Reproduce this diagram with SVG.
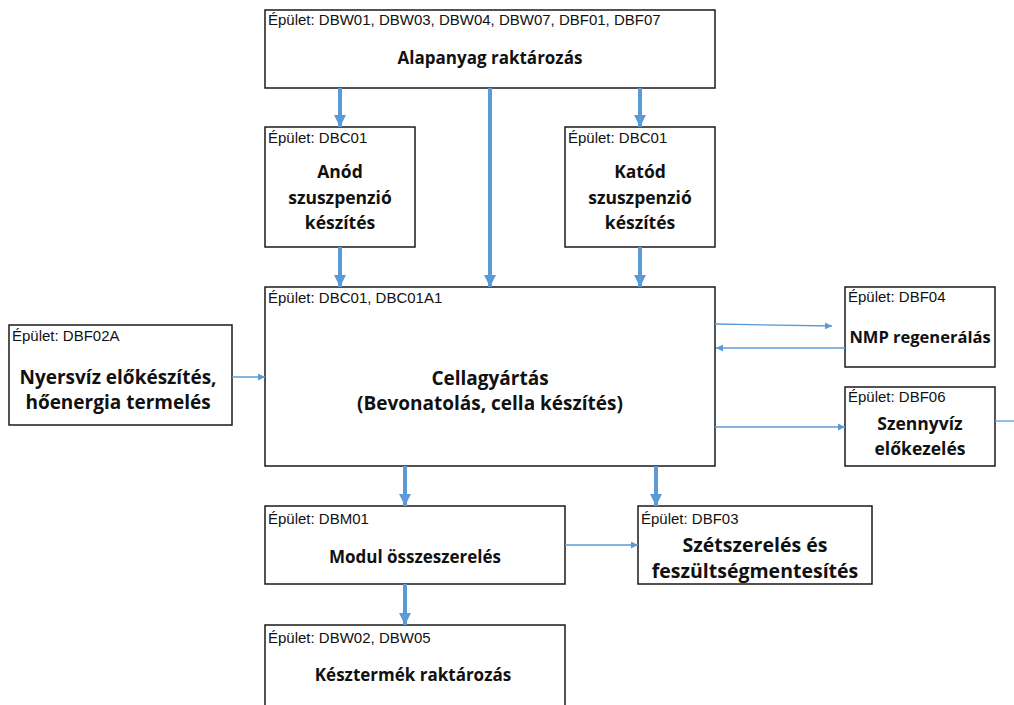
<svg xmlns="http://www.w3.org/2000/svg" width="1014" height="705" viewBox="0 0 1014 705">
<defs>
<marker id="hd" viewBox="0 0 10 10" refX="10" refY="5" markerWidth="3" markerHeight="3" orient="auto" markerUnits="strokeWidth"><path d="M0,0 L10,5 L0,10 z" fill="#5B9BD5"/></marker>
<marker id="hs" viewBox="0 0 10 10" refX="10" refY="5" markerWidth="8" markerHeight="7" orient="auto" markerUnits="userSpaceOnUse"><path d="M0,0 L10,5 L0,10 z" fill="#5B9BD5"/></marker>
</defs>
<style>
.box{fill:#fff;stroke:#1a1a1a;stroke-width:1.5}
.lbl{font-family:"Liberation Sans",Arial,sans-serif;font-size:15px;fill:#111}
.ttl{font-family:"Open Sans","Liberation Sans",sans-serif;font-size:17px;font-weight:bold;fill:#111;text-anchor:middle}
.thick{stroke:#5B9BD5;stroke-width:4;fill:none;marker-end:url(#hd)}
.thin{stroke:#5B9BD5;stroke-width:1.3;fill:none;marker-end:url(#hs)}
</style>
<rect width="1014" height="705" fill="#fff"/>
<g id="n-alapanyag"><rect class="box" x="265" y="10" width="450" height="78"/><text class="lbl" x="268" y="25">Épület: DBW01, DBW03, DBW04, DBW07, DBF01, DBF07</text><text class="ttl" x="490" y="64">Alapanyag raktározás</text></g>
<g id="n-anod"><rect class="box" x="265" y="127" width="150" height="120"/><text class="lbl" x="268" y="143">Épület: DBC01</text><g class="ttl" style="font-size:17.5px"><text class="ttl" x="340" y="178" style="font-size:17.5px">Anód</text><text class="ttl" x="340" y="204" style="font-size:17.5px">szuszpenzió</text><text class="ttl" x="340" y="229" style="font-size:17.5px">készítés</text></g></g>
<g id="n-katod"><rect class="box" x="565" y="127" width="150" height="120"/><text class="lbl" x="568" y="143">Épület: DBC01</text><text class="ttl" x="640" y="178" style="font-size:17.5px">Katód</text><text class="ttl" x="640" y="204" style="font-size:17.5px">szuszpenzió</text><text class="ttl" x="640" y="229" style="font-size:17.5px">készítés</text></g>
<g id="n-cella"><rect class="box" x="265" y="287" width="450" height="179"/><text class="lbl" x="268" y="303">Épület: DBC01, DBC01A1</text><text class="ttl" x="490" y="385" style="font-size:19px">Cellagyártás</text><text class="ttl" x="490" y="410" style="font-size:19px">(Bevonatolás, cella készítés)</text></g>
<g id="n-nyersviz"><rect class="box" x="9" y="325" width="223" height="100"/><text class="lbl" x="12" y="341">Épület: DBF02A</text><text class="ttl" x="118" y="384" style="font-size:19px">Nyersvíz előkészítés,</text><text class="ttl" x="118" y="409" style="font-size:19px">hőenergia termelés</text></g>
<g id="n-nmp"><rect class="box" x="845" y="287" width="150" height="80"/><text class="lbl" x="848" y="302">Épület: DBF04</text><text class="ttl" x="920" y="343" style="font-size:16.5px">NMP regenerálás</text></g>
<g id="n-szennyviz"><rect class="box" x="845" y="387" width="150" height="79"/><text class="lbl" x="848" y="402">Épület: DBF06</text><text class="ttl" x="920" y="430" style="font-size:17.5px">Szennyvíz</text><text class="ttl" x="920" y="455" style="font-size:17.5px">előkezelés</text></g>
<g id="n-modul"><rect class="box" x="265" y="506" width="300" height="78"/><text class="lbl" x="268" y="524">Épület: DBM01</text><text class="ttl" x="415" y="563">Modul összeszerelés</text></g>
<g id="n-szetszereles"><rect class="box" x="638" y="506" width="234" height="78"/><text class="lbl" x="641" y="524">Épület: DBF03</text><text class="ttl" x="755" y="552" style="font-size:19.5px">Szétszerelés és</text><text class="ttl" x="755" y="578" style="font-size:19.5px">feszültségmentesítés</text></g>
<g id="n-keszermek"><rect class="box" x="265" y="625" width="300" height="82"/><text class="lbl" x="268" y="643">Épület: DBW02, DBW05</text><text class="ttl" x="413" y="681">Késztermék raktározás</text></g>
<g id="connectors">
<line class="thick" x1="340" y1="88" x2="340" y2="127"/>
<line class="thick" x1="490" y1="88" x2="490" y2="287"/>
<line class="thick" x1="640" y1="88" x2="640" y2="127"/>
<line class="thick" x1="340" y1="247" x2="340" y2="287"/>
<line class="thick" x1="640" y1="247" x2="640" y2="287"/>
<line class="thick" x1="405" y1="466" x2="405" y2="506"/>
<line class="thick" x1="656" y1="466" x2="656" y2="506"/>
<line class="thick" x1="405" y1="584" x2="405" y2="625"/>
<line class="thin" x1="715" y1="324" x2="832" y2="326"/>
<line class="thin" x1="845" y1="348" x2="716" y2="348"/>
<line class="thin" x1="715" y1="427" x2="845" y2="427"/>
<line class="thin" x1="232" y1="377" x2="265" y2="377"/>
<line class="thin" x1="565" y1="545" x2="638" y2="545"/>
<line class="thin" x1="995" y1="421" x2="1024" y2="421"/>
</g>
</svg>
